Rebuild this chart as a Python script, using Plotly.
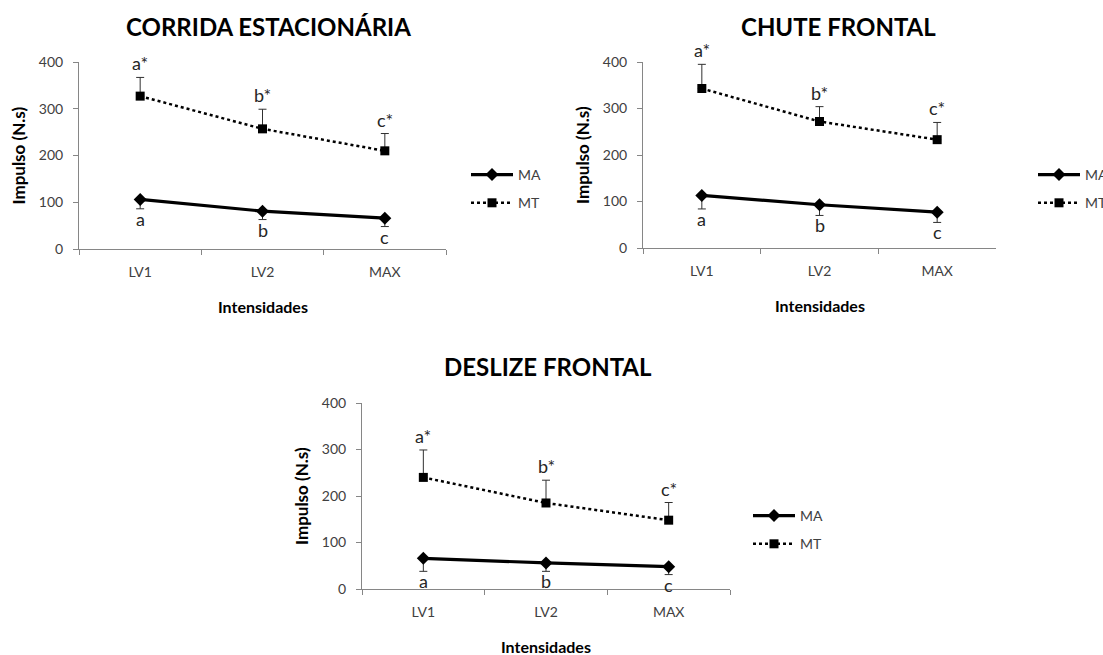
import plotly.graph_objects as go

categories = ["LV1", "LV2", "MAX"]
y_ticks = [0, 100, 200, 300, 400]

titles = ["CORRIDA ESTACIONÁRIA", "CHUTE FRONTAL", "DESLIZE FRONTAL"]

ma_values = [[106, 81, 66], [113, 93, 77], [66, 56, 48]]
ma_err_down = [[20, 18, 18], [29, 23, 22], [28, 18, 17]]
mt_values = [[327, 257, 210], [343, 272, 233], [240, 185, 148]]
mt_err_up = [[40, 42, 37], [52, 32, 37], [59, 49, 38]]

ma_letters = ["a", "b", "c"]
mt_letters = ["a*", "b*", "c*"]

W, H = 1103, 655


def px_x(px):
    return px / W


def px_y(py):
    return 1 - py / H


# pixel boxes of the plot areas: (x0, x1, y_top(400), y_bottom(0))
boxes = [(79, 446, 62, 249), (643, 996, 62, 248), (362, 730, 403, 589)]
title_pos = [(268, 26), (838, 26), (548, 367)]
legend_pos = [(466, 159), (1033, 159), (748, 500)]

FONT = "Lato"
fig = go.Figure()
annotations = []

for i in range(3):
    xa = "x" if i == 0 else f"x{i+1}"
    ya = "y" if i == 0 else f"y{i+1}"
    lg = "legend" if i == 0 else f"legend{i+1}"
    fig.add_trace(go.Scatter(
        x=categories, y=ma_values[i], name="MA", xaxis=xa, yaxis=ya, legend=lg,
        legendgroup=f"ma{i}",
        mode="lines+markers",
        line=dict(color="black", width=3.2),
        marker=dict(symbol="diamond", size=10, color="black"),
        error_y=dict(type="data", symmetric=False, array=[0, 0, 0],
                     arrayminus=ma_err_down[i], color="#303030", thickness=1, width=4),
    ))
    fig.add_trace(go.Scatter(
        x=categories, y=mt_values[i], name="MT", xaxis=xa, yaxis=ya, legend=lg,
        legendgroup=f"mt{i}",
        mode="lines+markers",
        line=dict(color="black", width=2.5, dash="dot"),
        marker=dict(symbol="square", size=9, color="black"),
        error_y=dict(type="data", symmetric=False, array=mt_err_up[i],
                     arrayminus=[0, 0, 0], color="#303030", thickness=1, width=4),
    ))
    x0, x1, yt, yb = boxes[i]
    xd = [px_x(x0), px_x(x1)]
    yd = [px_y(yb), px_y(yt)]
    axis_common = dict(showgrid=False, zeroline=False, showline=True,
                       linecolor="#868686", linewidth=1, ticks="outside",
                       tickcolor="#868686", ticklen=5,
                       tickfont=dict(family=FONT, size=14, color="#404040"))
    fig.update_layout(**{
        ("xaxis" if i == 0 else f"xaxis{i+1}"): dict(
            domain=xd, anchor=ya, type="category", range=[-0.5, 2.5],
            tickson="boundaries", ticklabelstandoff=10, **axis_common),
        ("yaxis" if i == 0 else f"yaxis{i+1}"): dict(
            domain=yd, anchor=xa, range=[0, 400], tickvals=y_ticks,
            ticklabelstandoff=7, **axis_common),
        lg: dict(x=px_x(legend_pos[i][0]), y=px_y(legend_pos[i][1]),
                 xanchor="left", yanchor="top", bgcolor="rgba(0,0,0,0)",
                 font=dict(family=FONT, size=14, color="#404040"),
                 tracegroupgap=7, itemwidth=42),
    })
    for j, c in enumerate(categories):
        annotations.append(dict(
            x=c, y=mt_values[i][j] + mt_err_up[i][j], xref=xa, yref=ya,
            text=mt_letters[j], showarrow=False, yanchor="bottom", yshift=1,
            font=dict(family=FONT, size=18, color="#262626")))
        annotations.append(dict(
            x=c, y=ma_values[i][j] - ma_err_down[i][j], xref=xa, yref=ya,
            text=ma_letters[j], showarrow=False, yanchor="top", yshift=3,
            font=dict(family=FONT, size=18, color="#262626")))
    # chart title
    annotations.append(dict(
        x=px_x(title_pos[i][0]), y=px_y(title_pos[i][1]), xref="paper", yref="paper",
        text=f"<b>{titles[i]}</b>", showarrow=False, xanchor="center", yanchor="middle",
        font=dict(family=FONT, size=24, color="black")))
    # axis titles
    annotations.append(dict(
        x=px_x((x0 + x1) / 2), y=px_y(yb + 57), xref="paper", yref="paper",
        text="<b>Intensidades</b>", showarrow=False, xanchor="center", yanchor="middle",
        font=dict(family=FONT, size=16, color="black")))
    annotations.append(dict(
        x=px_x(x0 - 61), y=px_y((yt + yb) / 2), xref="paper", yref="paper",
        text="<b>Impulso (N.s)</b>", showarrow=False, textangle=-90,
        xanchor="center", yanchor="middle",
        font=dict(family=FONT, size=17, color="black")))

fig.update_layout(
    width=W, height=H, margin=dict(l=0, r=0, t=0, b=0, autoexpand=False),
    paper_bgcolor="white", plot_bgcolor="white",
    annotations=annotations, showlegend=True,
)

fig.write_html(
    "out.html",
    config={"displayModeBar": False},
    post_script="document.body.style.margin='0';document.body.style.overflow='hidden';",
)
